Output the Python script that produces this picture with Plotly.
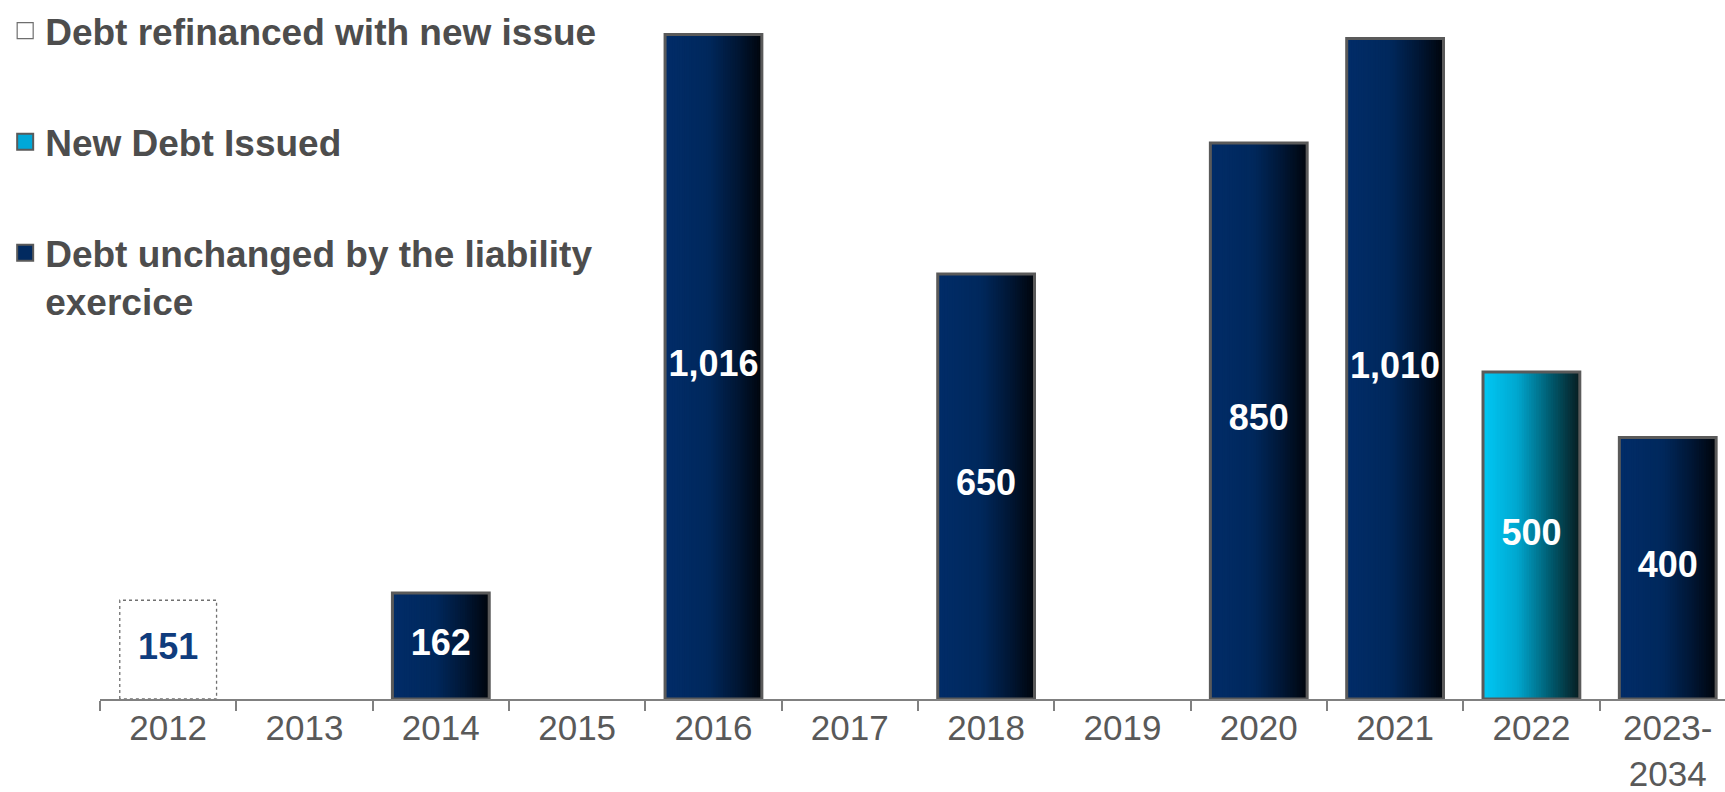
import plotly.graph_objects as go

# Maturity buckets and amounts (millions)
categories = ["2012", "2013", "2014", "2015", "2016", "2017", "2018", "2019",
              "2020", "2021", "2022", "2023-<br>2034"]
refinanced = [151, None, None, None, None, None, None, None, None, None, None, None]
new_issued = [None, None, None, None, None, None, None, None, None, None, 500, None]
unchanged = [None, None, 162, None, 1016, None, 650, None, 850, 1010, None, 400]

series_names = ["Debt refinanced with new issue", "New Debt Issued",
                "Debt unchanged by the liability<br>exercice"]

NAVY_SCALE = [(0.0, (1, 44, 104)), (0.45, (0, 40, 92)), (0.75, (0, 22, 52)), (1.0, (0, 5, 12))]
CYAN_SCALE = [(0.0, (0, 200, 245)), (0.35, (0, 168, 208)), (0.7, (0, 90, 110)), (1.0, (8, 28, 32))]

BAR_W = 0.71
N_STRIPES = 40
OUTLINE = "#5a5a5a"
FONT = "Liberation Sans, Arial, sans-serif"
X_RANGE = [-0.5, 11.42]


def lerp_color(scale, t):
    for (t0, c0), (t1, c1) in zip(scale[:-1], scale[1:]):
        if t0 <= t <= t1:
            f = (t - t0) / (t1 - t0) if t1 > t0 else 0
            r, g, b = (round(a + (b_ - a) * f) for a, b_ in zip(c0, c1))
            return f"rgb({r},{g},{b})"
    r, g, b = scale[-1][1]
    return f"rgb({r},{g},{b})"


fig = go.Figure()


def gradient_bars(values, scale):
    step = BAR_W / N_STRIPES
    for k in range(N_STRIPES):
        fig.add_trace(go.Bar(
            x=categories, y=values,
            offset=-BAR_W / 2 + k * step, width=step * 1.35,
            marker=dict(color=lerp_color(scale, (k + 0.5) / N_STRIPES), line=dict(width=0)),
            showlegend=False, hoverinfo="skip",
        ))
    fig.add_trace(go.Bar(
        x=categories, y=values, width=BAR_W, offset=-BAR_W / 2,
        marker=dict(color="rgba(0,0,0,0)", line=dict(color=OUTLINE, width=3)),
        showlegend=False, hoverinfo="skip",
    ))


# Refinanced debt: white bar with a dotted outline (outline drawn on a linear twin axis)
fig.add_trace(go.Bar(
    x=categories, y=refinanced, width=BAR_W, offset=-BAR_W / 2,
    marker=dict(color="white", line=dict(width=0)),
    showlegend=False, hoverinfo="skip",
))
ox, oy = [], []
for i, v in enumerate(refinanced):
    if v is not None:
        l, r = i - BAR_W / 2, i + BAR_W / 2
        ox += [l, l, r, r, l, None]
        oy += [0, v, v, 0, 0, None]
fig.add_trace(go.Scatter(
    x=ox, y=oy, xaxis="x2", mode="lines",
    line=dict(color="#707070", width=1.3, dash="dot"),
    showlegend=False, hoverinfo="skip",
))

gradient_bars(new_issued, CYAN_SCALE)
gradient_bars(unchanged, NAVY_SCALE)

# Value labels centred in each bar
lab_x, lab_y, lab_t, lab_c = [], [], [], []
for vals, col in ((refinanced, "#0f3c7d"), (new_issued, "white"), (unchanged, "white")):
    for cat, v in zip(categories, vals):
        if v is not None:
            lab_x.append(cat)
            lab_y.append(v / 2)
            lab_t.append(f"{v:,}")
            lab_c.append(col)
fig.add_trace(go.Scatter(
    x=lab_x, y=lab_y, text=lab_t, mode="text",
    textfont=dict(family=FONT, size=36, color=lab_c, weight="bold"),
    showlegend=False, hoverinfo="skip",
))

# Legend entries
legend_styles = [
    dict(color="white", line=dict(color="#6e6e6e", width=1.2)),
    dict(color="#00a8d8", line=dict(color=OUTLINE, width=2)),
    dict(color="#012a60", line=dict(color=OUTLINE, width=2)),
]
for name, mk in zip(series_names, legend_styles):
    fig.add_trace(go.Scatter(
        x=[None], y=[None], mode="markers", name=name, legendgroup=name,
        marker=dict(symbol="square", size=16, **mk),
    ))

fig.update_layout(
    width=1725, height=792,
    margin=dict(l=100, r=0, t=10, b=93, autoexpand=False),
    paper_bgcolor="white", plot_bgcolor="white",
    barmode="overlay",
    showlegend=True,
    legend=dict(
        xref="container", yref="container", x=0.003, y=1.0,
        xanchor="left", yanchor="top",
        font=dict(family=FONT, size=37, color="#4d4d4d", weight="bold"),
        traceorder="grouped", tracegroupgap=60, valign="top",
        bgcolor="rgba(0,0,0,0)", itemclick=False,
    ),
    xaxis=dict(
        type="category", categoryorder="array", categoryarray=categories,
        range=X_RANGE,
        showline=True, linecolor="#808080", linewidth=2,
        ticks="outside", tickson="boundaries", ticklen=10, tickwidth=2, tickcolor="#808080",
        tickfont=dict(family=FONT, size=35, color="#595959"),
        ticklabelstandoff=-3,
        showgrid=False, zeroline=False, fixedrange=True,
    ),
    xaxis2=dict(overlaying="x", range=X_RANGE, visible=False, fixedrange=True),
    yaxis=dict(range=[0, 1053.5], visible=False, showgrid=False, zeroline=False, fixedrange=True),
)

fig.write_html("out.html")
